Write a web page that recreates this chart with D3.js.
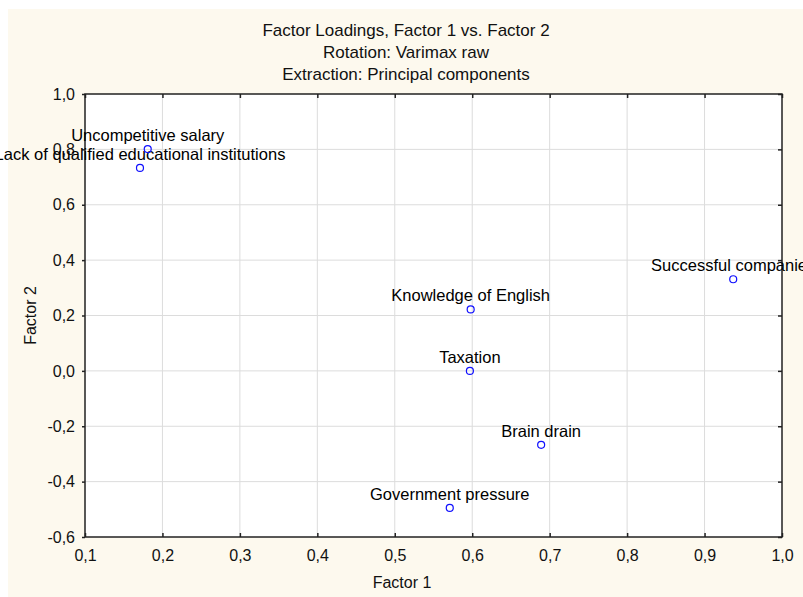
<!DOCTYPE html>
<html>
<head>
<meta charset="utf-8">
<script src="https://cdn.jsdelivr.net/npm/d3@7"></script>
<style>
	body { margin: 0; background: #ffffff; }
	svg { display: block; font-family: "Liberation Sans", Arial, sans-serif; }
</style>
</head>
<body>
<div id="chart"></div>
<script>

var labels   = ["Uncompetitive salary", "Lack of qualified educational institutions", "Successful companies",
                "Knowledge of English", "Taxation", "Brain drain", "Government pressure"];
var factor1  = [0.181, 0.171, 0.937, 0.598, 0.597, 0.689, 0.571];
var factor2  = [0.801, 0.733, 0.331, 0.222, 0.000, -0.267, -0.495];
var xTicks   = [0.1, 0.2, 0.3, 0.4, 0.5, 0.6, 0.7, 0.8, 0.9, 1.0];
var yTicks   = [-0.6, -0.4, -0.2, 0.0, 0.2, 0.4, 0.6, 0.8, 1.0];
var titles   = ["Factor Loadings, Factor 1 vs. Factor 2", "Rotation: Varimax raw", "Extraction: Principal components"];

var width  = 803,
    height = 597,
    margin = { top: 94, right: 21, bottom: 60, left: 85 };

// comma decimals, plain hyphen for negatives
var fmt = function( v ) { return d3.format(".1f")( v ).replace(".", ",").replace("\u2212", "-"); };

var svg = d3.select("#chart")
	.append("svg")
	.attr("width", width)
	.attr("height", height);

svg.append("rect")
	.attr("x", 8)
	.attr("y", 9)
	.attr("width", width - 8)
	.attr("height", height - 9)
	.style("fill", "#fdf9ee");

var x = d3.scaleLinear().domain([0.1, 1.0]).range([margin.left, width - margin.right]);
var y = d3.scaleLinear().domain([-0.6, 1.0]).range([height - margin.bottom, margin.top]);

// plot area
svg.append("rect")
	.attr("x", x(0.1))
	.attr("y", y(1.0))
	.attr("width", x(1.0) - x(0.1))
	.attr("height", y(-0.6) - y(1.0))
	.style("fill", "#ffffff");

// grid
var grid = svg.append("g").attr("class", "grid");

grid.selectAll("line.gx")
	.data(xTicks.slice(1, -1))
	.enter().append("line")
	.attr("x1", function(d) { return x(d); })
	.attr("x2", function(d) { return x(d); })
	.attr("y1", y(1.0))
	.attr("y2", y(-0.6))
	.attr("stroke", "#dcdcdc");

grid.selectAll("line.gy")
	.data(yTicks.slice(1, -1))
	.enter().append("line")
	.attr("x1", x(0.1))
	.attr("x2", x(1.0))
	.attr("y1", function(d) { return y(d); })
	.attr("y2", function(d) { return y(d); })
	.attr("stroke", "#dcdcdc");

// axes
svg.append("g")
	.attr("transform", "translate(0," + y(-0.6) + ")")
	.call(d3.axisBottom(x).tickValues(xTicks).tickFormat(fmt).tickSize(-4).tickPadding(13));

svg.append("g")
	.attr("transform", "translate(" + x(0.1) + ",0)")
	.call(d3.axisLeft(y).tickValues(yTicks).tickFormat(fmt).tickSize(3).tickPadding(7));

svg.append("g")
	.attr("transform", "translate(0," + y(1.0) + ")")
	.call(d3.axisTop(x).tickValues(xTicks).tickFormat("").tickSize(-4));

svg.append("g")
	.attr("transform", "translate(" + x(1.0) + ",0)")
	.call(d3.axisRight(y).tickValues(yTicks).tickFormat("").tickSize(-4));

svg.selectAll(".domain").remove();
svg.selectAll(".tick line").attr("stroke", "#222").attr("stroke-width", 1.5);
svg.selectAll(".tick text").style("font-size", "16px").attr("fill", "#111");

svg.append("rect")
	.attr("x", x(0.1))
	.attr("y", y(1.0))
	.attr("width", x(1.0) - x(0.1))
	.attr("height", y(-0.6) - y(1.0))
	.style("fill", "none")
	.style("stroke", "#222")
	.style("stroke-width", 1.5);

// points
var pts = svg.append("g");

pts.selectAll("text")
	.data(labels)
	.enter().append("text")
	.attr("x", function(d, i) { return x(factor1[i]); })
	.attr("y", function(d, i) { return y(factor2[i]) - 8; })
	.attr("text-anchor", "middle")
	.style("font-size", "16.5px")
	.attr("fill", "#000")
	.text(function(d) { return d; });

pts.selectAll("circle")
	.data(labels)
	.enter().append("circle")
	.attr("cx", function(d, i) { return x(factor1[i]); })
	.attr("cy", function(d, i) { return y(factor2[i]); })
	.attr("r", 3.5)
	.style("fill", "none")
	.style("stroke", "#1010ff")
	.style("stroke-width", 1.2);

// titles
svg.selectAll("text.title")
	.data(titles)
	.enter().append("text")
	.attr("class", "title")
	.attr("x", 406)
	.attr("y", function(d, i) { return 36 + i * 22; })
	.attr("text-anchor", "middle")
	.style("font-size", "17px")
	.attr("fill", "#111")
	.text(function(d) { return d; });

svg.append("text")
	.attr("x", 402)
	.attr("y", 588)
	.attr("text-anchor", "middle")
	.style("font-size", "16px")
	.attr("fill", "#111")
	.text("Factor 1");

svg.append("text")
	.attr("transform", "translate(36," + ((y(1.0) + y(-0.6)) / 2) + ") rotate(-90)")
	.attr("text-anchor", "middle")
	.style("font-size", "16px")
	.attr("fill", "#111")
	.text("Factor 2");

</script>
</body>
</html>
